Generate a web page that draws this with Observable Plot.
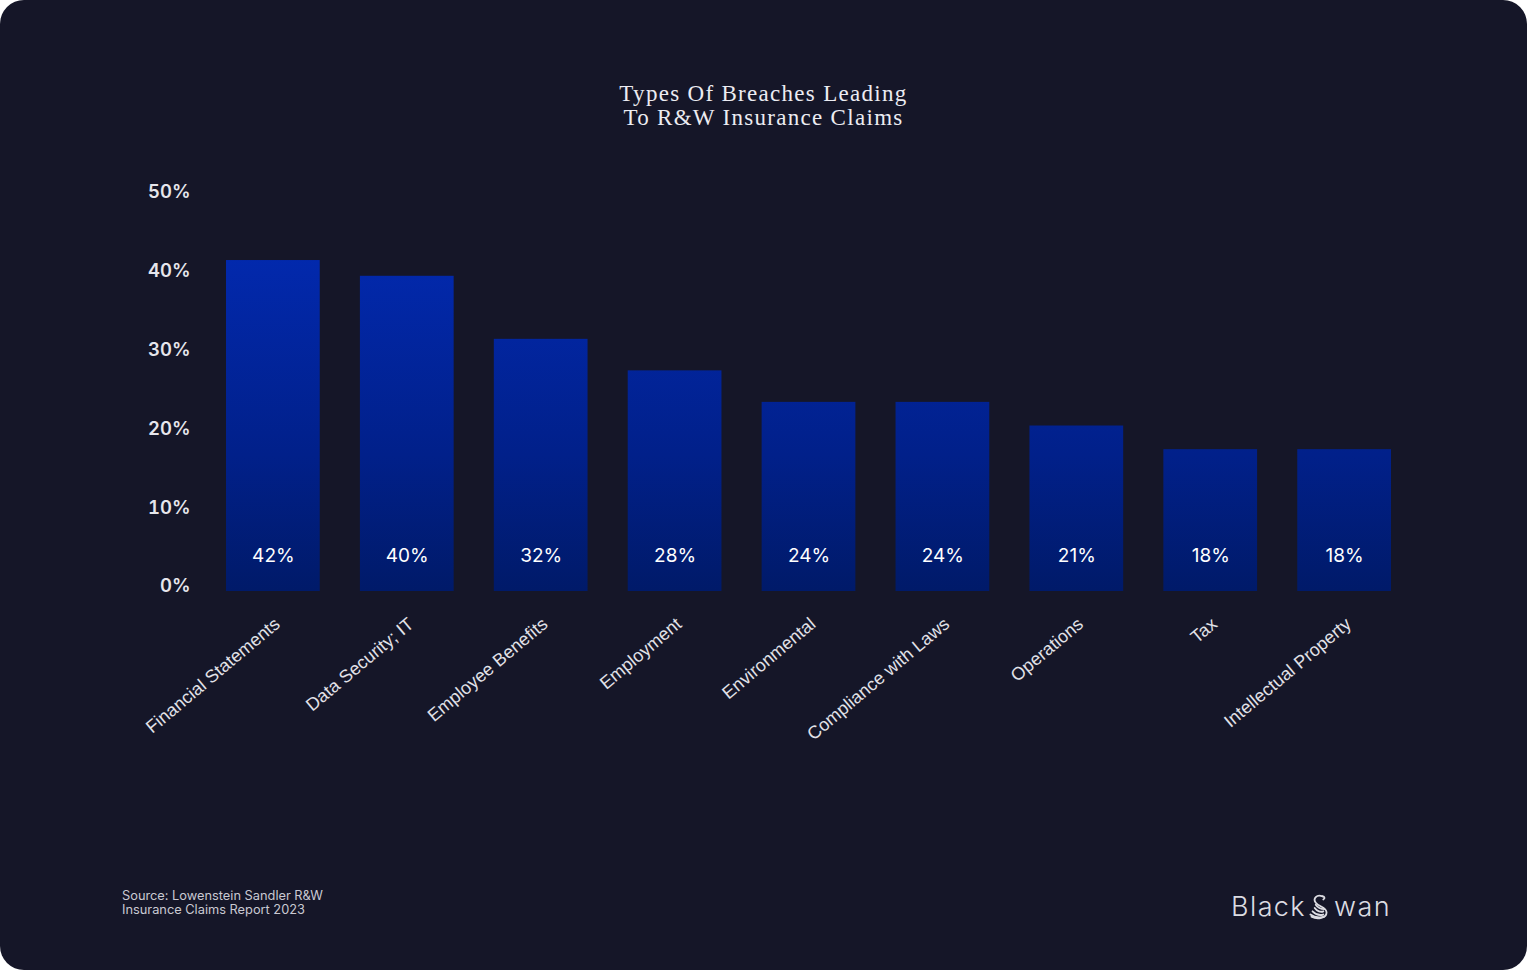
<!DOCTYPE html>
<html>
<head>
<meta charset="utf-8">
<script src="https://cdn.jsdelivr.net/npm/d3@7"></script>
<script src="https://cdn.jsdelivr.net/npm/@observablehq/plot@0.6"></script>
<style>
  html, body { margin: 0; padding: 0; background: #ffffff; }
  #card {
    position: absolute; left: 0; top: 0; width: 1527px; height: 970px;
    background: #151628; border-radius: 24px; overflow: hidden;
  }
  #title {
    position: absolute; left: 0; width: 1527px; top: 82px; text-align: center;
    font-family: "Liberation Serif", "DejaVu Serif", serif; font-size: 23px;
    line-height: 24px; letter-spacing: 1.3px; color: #ececf2;
  }
  #chart { position: absolute; left: 0; top: 0; }
  #source {
    position: absolute; left: 122px; top: 889px; font-family: Inter, "Noto Sans", sans-serif;
    font-size: 12.8px; line-height: 14px; color: #c9c9d2;
  }
  #logo {
    position: absolute; left: 1231px; top: 890px; font-family: Inter, "Noto Sans", sans-serif;
    font-weight: 300; font-size: 27px; letter-spacing: 1.4px; color: #dcdce2; white-space: nowrap;
    display: flex; align-items: center;
  }
  #logo svg { margin: 0 2px 0 0; }
</style>
</head>
<body>
<div id="card">
  <div id="chart"></div>
  <div id="title">Types Of Breaches Leading<br>To R&amp;W Insurance Claims</div>
  <div id="source">Source: Lowenstein Sandler R&amp;W<br>Insurance Claims Report 2023</div>
  <div id="logo"><span>Black</span><svg width="26" height="28" viewBox="0 0 24 26"><g fill="none" stroke="#dcdce2" stroke-width="1.7" stroke-linecap="round"><path d="M15 3 C10 1 6 5 9 9 C12 13 19 13 19 18 C19 23 11 25 5 22"/><path d="M15 3 C17 3 18 5 16 6"/><path d="M8 14 C10 17 14 18 16 17"/><path d="M6 17 C9 20 13 21 16 20"/><path d="M4 20 C8 23 13 23 17 22"/><path d="M9 11 C11 14 14 15 17 15"/></g></svg><span>wan</span></div>
</div>
<script>
const categories = ["Financial Statements", "Data Security; IT", "Employee Benefits", "Employment", "Environmental", "Compliance with Laws", "Operations", "Tax", "Intellectual Property"];
const values = [42, 40, 32, 28, 24, 24, 21, 18, 18];
const yTicks = [0, 10, 20, 30, 40, 50];

const data = categories.map((c, i) => ({category: c, value: values[i]}));

const chart = Plot.plot({
  width: 1527,
  height: 970,
  marginTop: 197,
  marginBottom: 379,
  marginLeft: 226,
  marginRight: 136,
  style: {background: "transparent", color: "#e6e6ec", overflow: "visible"},
  x: {domain: categories, paddingInner: 0.3, paddingOuter: 0, round: false},
  y: {domain: [0, 50]},
  marks: [
    Plot.barY(data, {x: "category", y: "value", fill: "url(#barGrad)"}),
    Plot.text(data, {x: "category", y: () => 0, text: d => d.value + "%", dy: -36, fill: "#ffffff", fontSize: 19, fontFamily: "Inter, sans-serif"}),
    Plot.axisY({ticks: yTicks, tickFormat: d => d + "%", tickSize: 0, tickPadding: 36, fontSize: 18.5, fontWeight: 600, fontFamily: "Inter, sans-serif", fill: "#e6e6ec", dy: -5, label: null}),
    Plot.axisX({tickSize: 0, tickRotate: -40, tickPadding: 30, dx: 4, fontSize: 18, fontFamily: "Liberation Sans, Arial, sans-serif", fill: "#e2e2e8", label: null})
  ]
});

const ns = "http://www.w3.org/2000/svg";
const defs = document.createElementNS(ns, "defs");
const grad = document.createElementNS(ns, "linearGradient");
grad.setAttribute("id", "barGrad");
grad.setAttribute("gradientUnits", "userSpaceOnUse");
grad.setAttribute("x1", "0"); grad.setAttribute("x2", "0");
grad.setAttribute("y1", "250"); grad.setAttribute("y2", "591");
[["0", "#0229ae"], ["0.6", "#01208a"], ["1", "#001a69"]].forEach(([o, c]) => {
  const s = document.createElementNS(ns, "stop");
  s.setAttribute("offset", o); s.setAttribute("stop-color", c);
  grad.appendChild(s);
});
defs.appendChild(grad);
chart.insertBefore(defs, chart.firstChild);

document.getElementById("chart").appendChild(chart);
</script>
</body>
</html>
